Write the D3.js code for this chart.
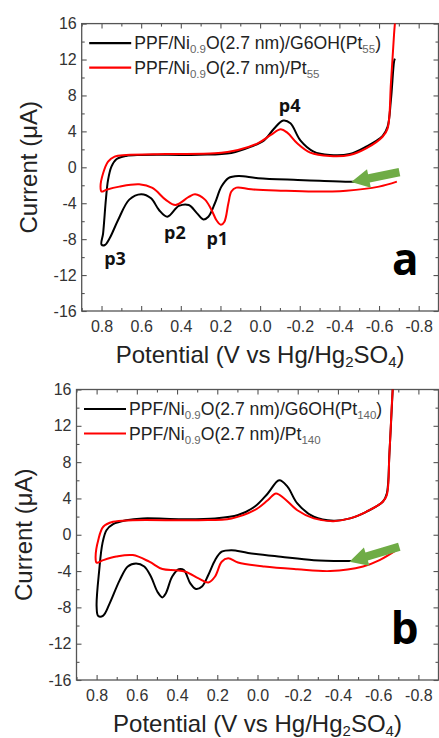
<!DOCTYPE html>
<html>
<head>
<meta charset="utf-8">
<script src="https://cdn.jsdelivr.net/npm/d3@7"></script>
<style>
  html, body { margin: 0; padding: 0; background: #fff; }
  svg { display: block; }
  .tick text { font-family: 'Liberation Sans', Arial, sans-serif; font-size: 16px; fill: #333; }
  .tick line { stroke: #555; stroke-width: 1.1; }
</style>
</head>
<body>
<svg id="chart" width="439" height="738"></svg>
<script>
// tick labels
const xTickValues = [0.8, 0.6, 0.4, 0.2, 0.0, -0.2, -0.4, -0.6, -0.8]
const xMinorValues = [0.9, 0.7, 0.5, 0.3, 0.1, -0.1, -0.3, -0.5, -0.7]
const yTickValues = [16, 12, 8, 4, 0, -4, -8, -12, -16]
const yMinorValues = [14, 10, 6, 2, -2, -6, -10, -14]

// panel a, [potential (V), current (uA)], swept toward 0.8 and back
const aG6OH = [[-0.50, -1.6], [-0.45, -1.6], [-0.30, -1.5], [-0.19, -1.41], [0.01, -1.22], [0.11, -0.97], [0.16, -1.2], [0.195, -2.15], [0.228, -4.0], [0.261, -5.5], [0.286, -5.8], [0.319, -5.1], [0.36, -4.2], [0.41, -4.3], [0.468, -5.5], [0.51, -4.75], [0.55, -3.45], [0.60, -3.0], [0.66, -3.6], [0.717, -5.9], [0.759, -7.9], [0.783, -8.65], [0.80, -8.6], [0.792, -7.35], [0.778, -3.6], [0.767, -1.4], [0.75, 0.07], [0.725, 0.9], [0.676, 1.26], [0.60, 1.37], [0.31, 1.4], [0.145, 1.6], [0.045, 2.3], [-0.02, 3.0], [-0.07, 4.3], [-0.117, 5.2], [-0.153, 4.9], [-0.203, 3.0], [-0.27, 1.75], [-0.352, 1.37], [-0.452, 1.48], [-0.535, 2.3], [-0.618, 3.5], [-0.643, 4.5], [-0.66, 7.5], [-0.676, 11.8], [-0.68, 12.1]]
const aPt = [[-0.69, -1.6], [-0.60, -2.15], [-0.435, -2.6], [-0.27, -2.7], [-0.104, -2.6], [0.045, -2.45], [0.12, -2.26], [0.145, -2.7], [0.16, -4.0], [0.18, -6.05], [0.198, -6.4], [0.22, -5.9], [0.245, -4.75], [0.278, -3.6], [0.328, -3.0], [0.36, -3.3], [0.427, -4.2], [0.477, -3.6], [0.543, -2.3], [0.61, -1.9], [0.71, -2.15], [0.775, -2.5], [0.80, -2.7], [0.805, -2.15], [0.792, -0.67], [0.767, 0.63], [0.734, 1.19], [0.676, 1.37], [0.477, 1.48], [0.228, 1.56], [0.112, 1.93], [0.012, 2.67], [-0.054, 3.6], [-0.104, 4.23], [-0.137, 3.86], [-0.187, 2.67], [-0.253, 1.63], [-0.352, 1.26], [-0.452, 1.37], [-0.535, 2.1], [-0.618, 3.4], [-0.643, 4.3], [-0.66, 9.35], [-0.676, 14.9], [-0.686, 17.5]]

// panel b
const bG6OH = [[-0.50, -2.9], [-0.443, -2.9], [-0.28, -2.8], [-0.116, -2.42], [0.047, -2.0], [0.129, -1.7], [0.178, -1.87], [0.211, -2.8], [0.244, -4.4], [0.276, -5.7], [0.306, -5.98], [0.334, -5.36], [0.366, -3.9], [0.391, -3.8], [0.424, -4.6], [0.456, -6.46], [0.473, -6.9], [0.497, -6.3], [0.53, -4.6], [0.563, -3.5], [0.604, -3.16], [0.645, -3.5], [0.685, -5.0], [0.735, -7.56], [0.767, -8.9], [0.792, -8.95], [0.80, -7.9], [0.787, -3.9], [0.771, -0.95], [0.751, 0.5], [0.718, 1.17], [0.653, 1.6], [0.571, 1.8], [0.375, 1.72], [0.211, 1.8], [0.097, 2.17], [0.015, 3.08], [-0.051, 4.55], [-0.108, 6.0], [-0.149, 5.3], [-0.198, 3.45], [-0.28, 1.98], [-0.378, 1.54], [-0.46, 1.8], [-0.541, 2.53], [-0.623, 3.63], [-0.643, 4.55], [-0.656, 8.95], [-0.672, 15.9], [-0.676, 17.5]]
const bPt = [[-0.69, -1.7], [-0.607, -2.8], [-0.525, -3.5], [-0.362, -4.0], [-0.198, -3.8], [-0.034, -3.5], [0.097, -3.05], [0.146, -2.6], [0.178, -2.97], [0.211, -4.6], [0.244, -5.25], [0.293, -4.8], [0.358, -4.07], [0.407, -3.9], [0.473, -3.78], [0.538, -2.97], [0.62, -2.24], [0.702, -2.4], [0.767, -2.8], [0.80, -3.08], [0.805, -2.4], [0.792, -0.6], [0.767, 0.88], [0.718, 1.43], [0.62, 1.6], [0.293, 1.6], [0.129, 1.8], [0.015, 2.7], [-0.051, 3.8], [-0.092, 4.55], [-0.133, 4.0], [-0.198, 2.7], [-0.28, 1.8], [-0.378, 1.5], [-0.46, 1.8], [-0.541, 2.53], [-0.623, 3.63], [-0.643, 4.37], [-0.656, 8.95], [-0.672, 15.9], [-0.678, 17.5]]

// peak labels (panel a only)
const aPeaks = [['p4', -0.149, 6.2], ['p3', 0.732, -10.9], ['p2', 0.43, -8.0], ['p1', 0.216, -8.65]]

const panels = [
  {
    id: 'a', box: { left: 81.7, right: 438.5, top: 23.6, bottom: 311 },
    series: [
      { name: ['PPF/Ni', '0.9', 'O(2.7 nm)/G6OH(Pt', '55', ')'], color: '#000', data: aG6OH },
      { name: ['PPF/Ni', '0.9', 'O(2.7 nm)/Pt', '55', ''], color: '#ff0000', data: aPt }
    ],
    peaks: aPeaks,
    arrow: [[-0.703, -0.55], [-0.46, -1.64]]
  },
  {
    id: 'b', box: { left: 76.5, right: 438.5, top: 389.5, bottom: 680 },
    series: [
      { name: ['PPF/Ni', '0.9', 'O(2.7 nm)/G6OH(Pt', '140', ')'], color: '#000', data: bG6OH },
      { name: ['PPF/Ni', '0.9', 'O(2.7 nm)/Pt', '140', ''], color: '#ff0000', data: bPt }
    ],
    peaks: [],
    arrow: [[-0.705, -1.32], [-0.457, -2.97]]
  }
]

const svg = d3.select('#chart')
panels.forEach(drawPanel)

function drawPanel (p) {
  const { left, right, top, bottom } = p.box
  const x = d3.scaleLinear().domain([0.9, -0.9]).range([left, right])
  const y = d3.scaleLinear().domain([-16, 16]).range([bottom, top])
  const g = svg.append('g')

  g.append('clipPath').attr('id', 'clip-' + p.id)
    .append('rect').attr('x', left).attr('y', top).attr('width', right - left).attr('height', bottom - top)

  // ticks on all four sides, pointing inward
  const fmtX = d => d.toFixed(1)
  addAxis(d3.axisBottom(x).tickValues(xTickValues).tickFormat(fmtX).tickSize(-5).tickPadding(10), `translate(0,${bottom})`)
  addAxis(d3.axisBottom(x).tickValues(xMinorValues).tickFormat('').tickSize(-3), `translate(0,${bottom})`)
  addAxis(d3.axisTop(x).tickValues(xTickValues).tickFormat('').tickSize(-5), `translate(0,${top})`)
  addAxis(d3.axisTop(x).tickValues(xMinorValues).tickFormat('').tickSize(-3), `translate(0,${top})`)
  addAxis(d3.axisLeft(y).tickValues(yTickValues).tickFormat(d => String(d)).tickSize(-5).tickPadding(5), `translate(${left},0)`)
  addAxis(d3.axisLeft(y).tickValues(yMinorValues).tickFormat('').tickSize(-3), `translate(${left},0)`)
  addAxis(d3.axisRight(y).tickValues(yTickValues).tickFormat('').tickSize(-5), `translate(${right},0)`)
  addAxis(d3.axisRight(y).tickValues(yMinorValues).tickFormat('').tickSize(-3), `translate(${right},0)`)

  function addAxis (axis, transform) {
    const a = g.append('g').attr('transform', transform).call(axis)
    a.select('.domain').remove()
  }

  g.append('rect')
    .attr('x', left).attr('y', top).attr('width', right - left).attr('height', bottom - top)
    .attr('fill', 'none').attr('stroke', '#555').attr('stroke-width', 1.3)

  const line = d3.line()
    .x(d => x(d[0]))
    .y(d => y(d[1]))
    .curve(d3.curveCatmullRom.alpha(0.5))

  const curves = g.append('g').attr('clip-path', `url(#clip-${p.id})`)
  p.series.forEach(s => {
    curves.append('path')
      .attr('d', line(s.data))
      .attr('fill', 'none')
      .attr('stroke', s.color)
      .attr('stroke-width', 2)
      .attr('stroke-linejoin', 'round')
  })

  // green scan-direction arrow
  const [t0, t1] = p.arrow.map(d => [x(d[0]), y(d[1])])
  const dx = t1[0] - t0[0]
  const dy = t1[1] - t0[1]
  const len = Math.hypot(dx, dy)
  const ux = dx / len
  const uy = dy / len
  const nx = -uy
  const ny = ux
  const headLen = 18
  const shaft = 4.2
  const head = 9.5
  const bx = t1[0] - ux * headLen
  const by = t1[1] - uy * headLen
  const pts = [
    [t0[0] + nx * shaft, t0[1] + ny * shaft],
    [bx + nx * shaft, by + ny * shaft],
    [bx + nx * head, by + ny * head],
    t1,
    [bx - nx * head, by - ny * head],
    [bx - nx * shaft, by - ny * shaft],
    [t0[0] - nx * shaft, t0[1] - ny * shaft]
  ]
  g.append('path').attr('d', 'M' + pts.map(d => d.join(',')).join('L') + 'Z').attr('fill', '#6fac46')

  // legend
  const legend = g.append('g')
  p.series.forEach((s, i) => {
    const ly = top + 19.5 + i * 24.5
    const lx = left + 7.5
    legend.append('line')
      .attr('x1', lx).attr('x2', lx + 42).attr('y1', ly).attr('y2', ly)
      .attr('stroke', s.color).attr('stroke-width', 2.2)
    const txt = legend.append('text')
      .attr('x', lx + 45).attr('y', ly + 6)
      .attr('font-family', "'Liberation Sans', Arial, sans-serif")
      .attr('font-size', 17.6)
      .attr('fill', '#222')
    s.name.forEach((part, k) => {
      const sub = k % 2 === 1
      const ts = txt.append('tspan').text(part)
      if (sub) ts.attr('font-size', 11.5).attr('dy', 4).attr('fill', '#666')
      else if (k > 0) ts.attr('dy', -4)
    })
  })

  // peak labels
  g.selectAll('.peak').data(p.peaks).join('text')
    .attr('class', 'peak')
    .attr('x', d => x(d[1])).attr('y', d => y(d[2]))
    .attr('text-anchor', 'middle')
    .attr('font-family', "'Open Sans', sans-serif")
    .attr('font-weight', 700)
    .attr('font-size', 18)
    .attr('fill', '#111')
    .text(d => d[0])

  // panel letter
  g.append('text')
    .attr('x', right - 20).attr('y', bottom - 36)
    .attr('text-anchor', 'end')
    .attr('font-family', "'Open Sans', sans-serif")
    .attr('font-weight', 700)
    .attr('font-size', 44)
    .attr('fill', '#000')
    .text(p.id)

  // axis titles
  g.append('text')
    .attr('transform', `translate(${left - 45},${(top + bottom) / 2}) rotate(-90)`)
    .attr('text-anchor', 'middle')
    .attr('font-family', "'Liberation Sans', Arial, sans-serif")
    .attr('font-size', 24)
    .attr('fill', '#222')
    .text('Current (μA)')

  const xt = g.append('text')
    .attr('x', (left + right) / 2).attr('y', bottom + 52)
    .attr('text-anchor', 'middle')
    .attr('font-family', "'Liberation Sans', Arial, sans-serif")
    .attr('font-size', 24)
    .attr('fill', '#222')
  xt.append('tspan').text('Potential (V vs Hg/Hg')
  xt.append('tspan').text('2').attr('font-size', 15).attr('dy', 3.5)
  xt.append('tspan').text('SO').attr('dy', -3.5)
  xt.append('tspan').text('4').attr('font-size', 15).attr('dy', 3.5)
  xt.append('tspan').text(')').attr('dy', -3.5)
}
</script>
</body>
</html>
